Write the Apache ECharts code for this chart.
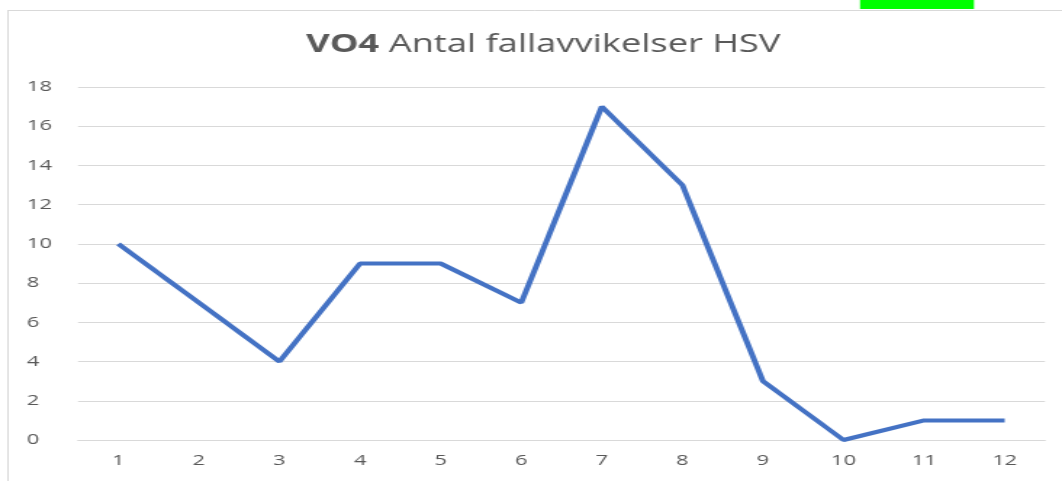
<!DOCTYPE html>
<html>
<head>
<meta charset="utf-8">
<script src="https://cdn.jsdelivr.net/npm/echarts@6/dist/echarts.min.js"></script>
<style>
html, body { margin: 0; padding: 0; background: #fff; overflow: hidden; }
/* the reference is stretched horizontally, so the chart is drawn narrow and widened */
#main { width: 732px; height: 481px; transform: scaleX(1.4508); transform-origin: 0 0; }
</style>
</head>
<body>
<div id="main"></div>
<script>
var months = ['1', '2', '3', '4', '5', '6', '7', '8', '9', '10', '11', '12'];
var fallData = [10, 7, 4, 9, 9, 7, 17, 13, 3, 0, 1, 1];
var yTicks = { min: 0, max: 18, interval: 2 };

var sx = 1.4508; // horizontal stretch
var myChart = echarts.init(document.getElementById('main'));
var option = {
    backgroundColor: '#fff',
    textStyle: { fontFamily: 'Open Sans' },
    title: {
        text: '{b|VO4} Antal fallavvikelser HSV',
        left: 536 / sx,
        top: 27,
        textAlign: 'center',
        textStyle: {
            fontSize: 25,
            fontWeight: 'normal',
            color: '#595959',
            fontFamily: 'Open Sans',
            rich: {
                b: { fontSize: 25, fontWeight: 'bold', color: '#595959', fontFamily: 'Open Sans' }
            }
        }
    },
    graphic: [
        { type: 'line', shape: { x1: 8 / sx, y1: 10.5, x2: 732, y2: 10.5 }, style: { stroke: '#d9d9d9', lineWidth: 1 } },
        { type: 'line', shape: { x1: 8 / sx, y1: 10, x2: 8 / sx, y2: 481 }, style: { stroke: '#d9d9d9', lineWidth: 1 } },
        { type: 'rect', shape: { x: 860 / sx, y: 0, width: 114 / sx, height: 9 }, style: { fill: '#00ff00' } }
    ],
    grid: {
        left: 78 / sx,
        right: 17 / sx,
        top: 87,
        bottom: 41
    },
    xAxis: {
        type: 'category',
        data: months,
        boundaryGap: true,
        axisLine: { lineStyle: { color: '#d9d9d9' } },
        axisTick: { show: false },
        axisLabel: { color: '#595959', fontSize: 15, margin: 13 }
    },
    yAxis: {
        type: 'value',
        min: yTicks.min,
        max: yTicks.max,
        interval: yTicks.interval,
        axisLine: { show: false },
        axisTick: { show: false },
        axisLabel: { color: '#595959', fontSize: 15, margin: 78 / sx - 27 / sx, align: 'left' },
        splitLine: { lineStyle: { color: '#d9d9d9' } }
    },
    series: [
        {
            name: 'Antal fallavvikelser',
            type: 'line',
            data: fallData,
            symbol: 'none',
            lineStyle: { color: '#4472c4', width: 4 },
            animation: false
        }
    ]
};
myChart.setOption(option);
</script>
</body>
</html>
